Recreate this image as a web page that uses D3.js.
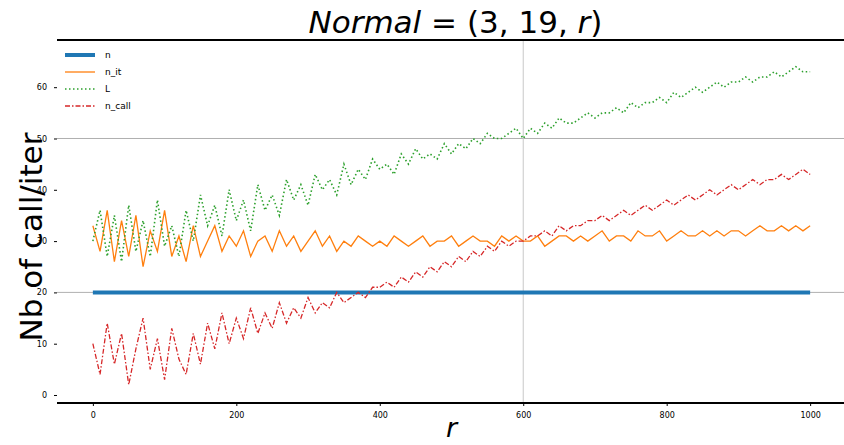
<!DOCTYPE html>
<html>
<head>
<meta charset="utf-8">
<script src="https://cdn.jsdelivr.net/npm/d3@7"></script>
<style>
  body { margin: 0; background: #fff; }
  text { font-family: "DejaVu Sans", sans-serif; }
</style>
</head>
<body>
<svg id="chart" width="844" height="445"></svg>
<script>
// r sampled every 10 from 0 to 1000
const rValues = d3.range(0, 1001, 10);

const nValue = 20;

const nIter = [
  33, 28, 36, 26, 34, 27, 35, 25, 32, 28, 36, 27, 31, 26, 33, 27,
  30, 33, 28, 31, 29, 32, 27, 30, 31, 28, 32, 29, 31, 28, 30, 32, 29, 31, 28, 30, 29, 31, 30, 29,
  30, 29, 31, 30, 29, 30, 31, 29, 30, 30, 31, 29, 30, 31, 30, 30, 29, 31, 30, 31, 30, 30, 31, 29,
  30, 31, 31, 30, 31, 30, 31, 32, 30, 31, 31, 30, 32, 31, 31, 32, 30, 31, 32, 31, 31, 32, 31, 32,
  31, 32, 32, 31, 32, 33, 32, 32, 33, 32, 33, 32, 33
];

const lValues = [
  30, 36, 27, 35, 26, 37, 28, 34, 27, 38, 29, 33, 27, 36, 30, 39,
  33, 37, 31, 40, 34, 38, 32, 41, 36, 39, 35, 42, 38, 41, 37, 43, 40, 42, 39, 45, 41, 44, 42, 46,
  44, 45, 43, 47, 45, 48, 46, 47, 46, 49, 47, 49, 48, 50, 49, 51, 50, 50, 51, 52, 50, 52, 51, 53,
  52, 54, 53, 53, 54, 55, 54, 55, 55, 56, 55, 57, 56, 57, 57, 58, 57, 59, 58, 59, 60, 59, 60, 61,
  60, 61, 61, 62, 61, 62, 62, 63, 62, 63, 64, 63, 63
];

const nCall = [
  10, 4, 14, 6, 12, 2, 9, 15, 5, 11, 3, 13, 7, 4, 12, 6,
  14, 9, 16, 10, 15, 11, 17, 12, 16, 13, 18, 14, 17, 15, 19, 16, 18, 17, 20, 18, 19, 20, 19, 21,
  21, 22, 21, 23, 22, 24, 23, 25, 24, 26, 25, 27, 26, 28, 27, 29, 28, 30, 29, 30, 30, 31, 31, 32,
  31, 33, 32, 33, 33, 34, 34, 35, 34, 35, 36, 35, 36, 37, 36, 37, 38, 37, 38, 39, 38, 39, 40, 39,
  40, 41, 40, 41, 42, 41, 42, 42, 43, 42, 43, 44, 43
];

const xTicks = [0, 200, 400, 600, 800, 1000];
const yTicks = [0, 10, 20, 30, 40, 50, 60];
const hLines = [20, 50];
const vLines = [600];

const legendLabels = ['n', 'n_it', 'L', 'n_call'];

const svg = d3.select('#chart');
const margin = { top: 40, left: 57, right: 846, bottom: 403 };

const x = d3.scaleLinear().domain([-50, 1050]).range([margin.left, margin.right]);
const y = d3.scaleLinear().domain([-1.56, 69.2]).range([margin.bottom, margin.top]);

// grid lines
svg.selectAll('.hgrid').data(hLines).join('line')
  .attr('x1', margin.left).attr('x2', margin.right)
  .attr('y1', d => y(d)).attr('y2', d => y(d))
  .attr('stroke', '#b0b0b0').attr('stroke-width', 1);
svg.selectAll('.vgrid').data(vLines).join('line')
  .attr('x1', d => x(d)).attr('x2', d => x(d))
  .attr('y1', margin.top).attr('y2', margin.bottom)
  .attr('stroke', '#c8c8c8').attr('stroke-width', 1);

const line = d3.line().x((d, i) => x(rValues[i])).y(d => y(d));

const series = [
  { vals: rValues.map(() => nValue), color: '#1f77b4', width: 4, dash: null },
  { vals: nIter, color: '#ff7f0e', width: 1.3, dash: null },
  { vals: lValues, color: '#2ca02c', width: 1.6, dash: '1.5,2.5' },
  { vals: nCall, color: '#d62728', width: 1.3, dash: '5,2,1.5,2' }
];

svg.selectAll('.series').data(series).join('path')
  .attr('class', 'series')
  .attr('d', d => line(d.vals))
  .attr('fill', 'none')
  .attr('stroke', d => d.color)
  .attr('stroke-width', d => d.width)
  .attr('stroke-dasharray', d => d.dash);

// spines (top and bottom only)
svg.append('line').attr('x1', margin.left).attr('x2', 844)
  .attr('y1', margin.top).attr('y2', margin.top)
  .attr('stroke', '#000').attr('stroke-width', 2);
svg.append('line').attr('x1', margin.left).attr('x2', 844)
  .attr('y1', margin.bottom).attr('y2', margin.bottom)
  .attr('stroke', '#000').attr('stroke-width', 2);

// axes
const xAxis = d3.axisBottom(x).tickValues(xTicks).tickFormat(d3.format('d')).tickSize(3).tickSizeOuter(0);
const xg = svg.append('g').attr('transform', `translate(0,${margin.bottom})`).call(xAxis);
xg.select('.domain').remove();
xg.selectAll('text').attr('font-size', 8).attr('dy', '1.1em');

const yAxis = d3.axisLeft(y).tickValues(yTicks).tickSize(3).tickSizeOuter(0);
const yg = svg.append('g').attr('transform', `translate(${margin.left},0)`).call(yAxis);
yg.select('.domain').remove();
yg.selectAll('text').attr('font-size', 8).attr('x', -10);

// title
const title = svg.append('text')
  .attr('x', (margin.left + margin.right) / 2 + 4).attr('y', 33)
  .attr('text-anchor', 'middle').attr('font-size', 31);
title.append('tspan').attr('font-style', 'italic').text('Normal');
title.append('tspan').text(' = (3, 19, ');
title.append('tspan').attr('font-style', 'italic').text('r');
title.append('tspan').text(')');

// axis labels
svg.append('text')
  .attr('transform', `translate(42,237) rotate(-90)`)
  .attr('text-anchor', 'middle').attr('font-size', 31)
  .text('Nb of call/iter');
svg.append('text')
  .attr('x', (margin.left + margin.right) / 2).attr('y', 437)
  .attr('text-anchor', 'middle').attr('font-size', 27).attr('font-style', 'italic')
  .text('r');

// legend
const legend = svg.append('g').attr('transform', 'translate(65,55)');
const rows = legend.selectAll('g').data(series).join('g')
  .attr('transform', (d, i) => `translate(0,${i * 17})`);
rows.append('line').attr('x1', 0).attr('x2', 30)
  .attr('stroke', d => d.color)
  .attr('stroke-width', d => d.width)
  .attr('stroke-dasharray', d => d.dash);
rows.append('text').attr('x', 40).attr('y', 3)
  .attr('font-size', 9)
  .text((d, i) => legendLabels[i]);
</script>
</body>
</html>
